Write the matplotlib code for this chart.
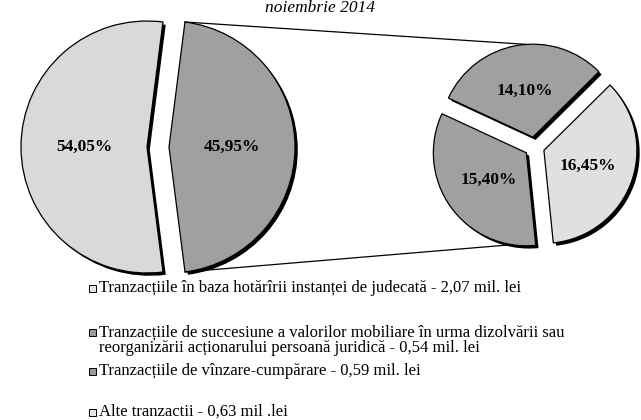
import matplotlib
matplotlib.use("Agg")
import matplotlib.pyplot as plt
import matplotlib.patheffects as pe
from matplotlib.patches import Rectangle
import numpy as np

# ---- data ----
main_labels = ["Alte tranzacții (grup)", "Tranzacțiile în baza hotărîrii instanței de judecată"]
main_values = [45.95, 54.05]
sub_labels = ["Alte tranzactii", "Tranzacțiile de succesiune", "Tranzacțiile de vînzare-cumpărare"]
sub_values = [16.45, 14.10, 15.40]
pct_main = ["45,95%", "54,05%"]
pct_sub = ["16,45%", "14,10%", "15,40%"]
legend_lines = [
    ["Tranzacțiile în baza hotărîrii instanței de judecată - 2,07 mil. lei"],
    ["Tranzacțiile de succesiune a valorilor mobiliare în urma dizolvării sau",
     "reorganizării acționarului persoană juridică - 0,54 mil. lei"],
    ["Tranzacțiile de vînzare-cumpărare - 0,59 mil. lei"],
    ["Alte tranzactii - 0,63 mil .lei"],
]
title_text = "noiembrie 2014"

# ---- style ----
LIGHT = "#D9D9D9"
DARK = "#A0A0A0"
main_colors = [DARK, LIGHT]
sub_colors = ["#E0E0E0", DARK, DARK]
legend_colors = ["#E6E6E6", "#999999", "#999999", "#E6E6E6"]
SERIF = ["Liberation Serif", "DejaVu Serif"]

W, H = 641, 420
fig = plt.figure(figsize=(W / 100, H / 100), dpi=100)
ax = fig.add_axes([0, 0, 1, 1])

shadow = [pe.SimplePatchShadow(offset=(2.0, -2.0), shadow_rgbFace="black", alpha=1.0), pe.Normal()]

main_c = (158, H - 147)
main_r = 126
main_expl = 11
sub_c = (534.5, H - 147)
sub_r = 93
sub_expl = 10

wm, _ = ax.pie(main_values, colors=main_colors, startangle=-82.7, counterclock=True,
               explode=[main_expl] * len(main_values), center=main_c, radius=main_r, frame=True,
               wedgeprops=dict(edgecolor="black", linewidth=0.9))
ws, _ = ax.pie(sub_values, colors=sub_colors, startangle=-84.2, counterclock=True,
               explode=[sub_expl] * len(sub_values), center=sub_c, radius=sub_r, frame=True,
               wedgeprops=dict(edgecolor="black", linewidth=0.9))
ax.set_xlim(0, W)
ax.set_ylim(0, H)
ax.set_aspect("equal")
ax.axis("off")

for w in list(wm) + list(ws):
    w.set_path_effects(shadow)


def label(w, txt, frac=0.5):
    th = np.deg2rad((w.theta1 + w.theta2) / 2)
    cx, cy = w.center
    ax.text(cx + frac * w.r * np.cos(th), cy + frac * w.r * np.sin(th), txt,
            ha="center", va="center", fontsize=12.5, fontweight="bold", family=SERIF)


for w, t in zip(wm, pct_main):
    label(w, t)
for w, t in zip(ws, pct_sub):
    label(w, t)


def pt(w, ang):
    a = np.deg2rad(ang)
    return w.center[0] + w.r * np.cos(a), w.center[1] + w.r * np.sin(a)


# connector lines: from "other" slice edges to the secondary pie
other = wm[0]
p1 = pt(other, other.theta2)
p2 = pt(other, other.theta1)
q1 = pt(ws[1], 94)
q2 = pt(ws[2], 261)
ax.plot([p1[0], q1[0]], [p1[1], q1[1]], color="black", lw=0.9)
ax.plot([p2[0], q2[0]], [p2[1], q2[1]], color="black", lw=0.9)

# title
fig.text(320 / W, 1 - 0.5 / H, title_text, ha="center", va="top",
         fontsize=12.5, style="italic", family=SERIF)

# legend
rows_y = [288, 332, 371, 412]
line_gap = 16
for y, lines, col in zip(rows_y, legend_lines, legend_colors):
    ax.add_patch(Rectangle((89, H - y - 3.5), 7, 7, facecolor=col, edgecolor="black", lw=0.7))
    for i, ln in enumerate(lines):
        ax.text(99, H - y - i * line_gap, ln, ha="left", va="center", fontsize=12, family=SERIF)

fig.savefig("out.png", dpi=100)
